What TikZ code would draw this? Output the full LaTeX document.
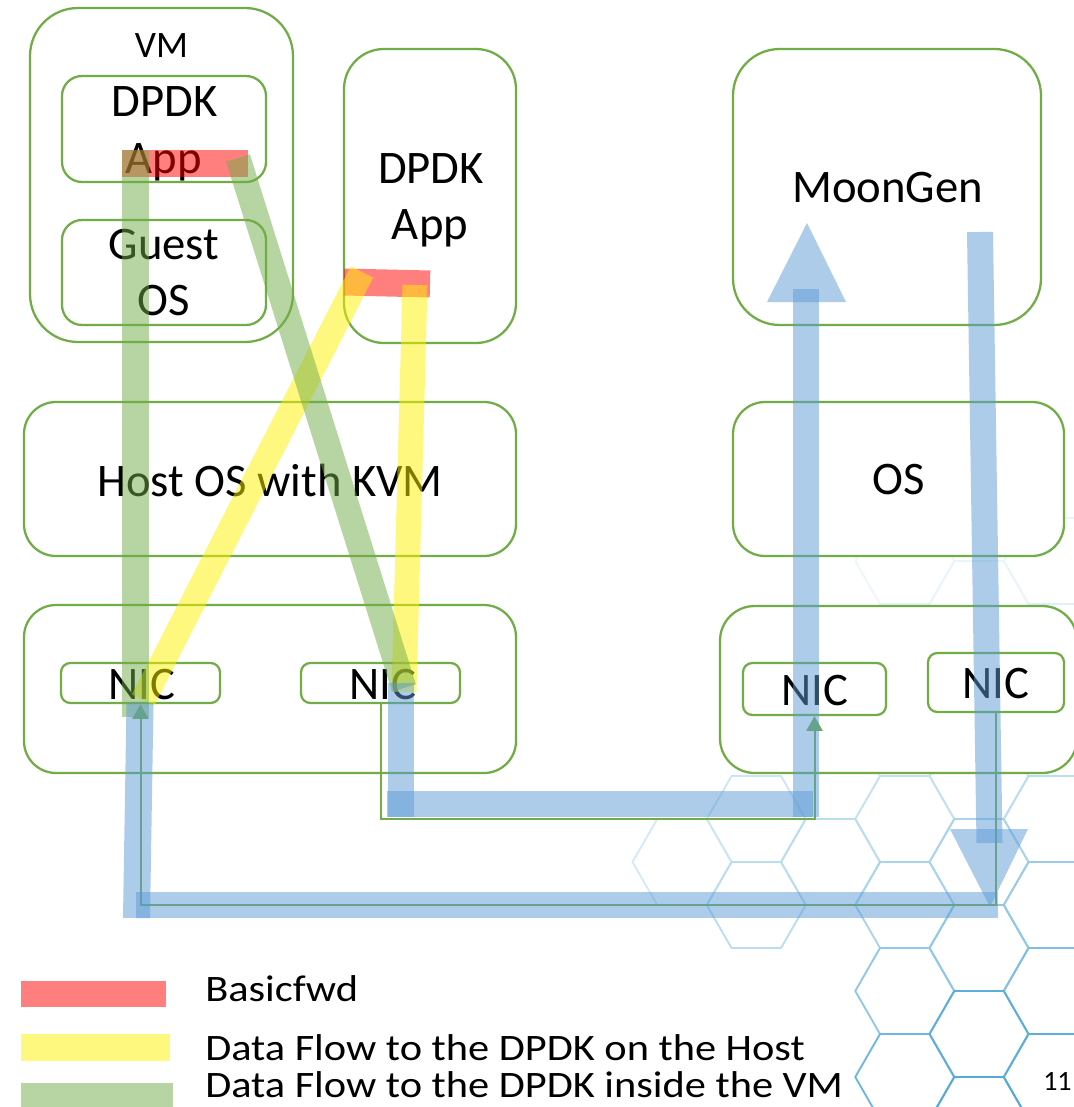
\documentclass[tikz,border=0pt]{standalone}
\usepackage{fontspec}
\setmainfont{Carlito}
\usetikzlibrary{fit,arrows.meta}
\definecolor{grn}{HTML}{70AD47}
\definecolor{fblue}{HTML}{5B9BD5}
\definecolor{hexc}{RGB}{84,170,218}
\newcommand\mainsz{\fontsize{35}{42}\selectfont}
\newcommand\vmsz{\fontsize{28}{34}\selectfont}
\newcommand\legsz{\fontsize{28}{34}\selectfont}
\newcommand\pgsz{\fontsize{21}{25}\selectfont}
\newcommand\hexcell[3]{\draw[hexline, draw=hexc!#3] (#1-49.5,#2) -- ++(24.75,-43) -- ++(49.5,0) -- ++(24.75,43) -- ++(-24.75,43) -- ++(-49.5,0) -- cycle;}
\newcommand\legtxt[1]{\scalebox{1.135}[1]{#1}}
\begin{document}
\begin{tikzpicture}[x=0.75pt, y=-0.75pt,
  box/.style={draw=grn, line width=1.7pt, fill=white, inner sep=0pt},
  lbl/.style={inner sep=0pt, font=\mainsz, anchor=base},
  legl/.style={inner sep=0pt, font=\legsz, anchor=base west},
  swatch/.style={draw=none, inner sep=0pt, fill opacity=0.5},
  hexline/.style={line width=1.4pt, line join=round},
  link/.style={draw=grn, line width=1.5pt, -{Triangle[length=11pt,width=12pt]}},
  flow/.style={line width=#1, opacity=0.5},
  tipfill/.style={fill=fblue, opacity=0.5}]
\useasboundingbox (0,0) rectangle (1074,1107);
\fill[white] (0,0) rectangle (1074,1107);
\clip (0,0) rectangle (1074,1107);

% background hexagons
\hexcell{904.75}{561}{10}
\hexcell{1053.25}{561}{12}
\hexcell{979}{604}{12}
\hexcell{904.75}{647}{15}
\hexcell{1053.25}{647}{18}
\hexcell{979}{690}{20}
\hexcell{904.75}{733}{25}
\hexcell{682}{862}{25}
\hexcell{1053.25}{733}{28}
\hexcell{979}{776}{30}
\hexcell{756.25}{819}{30}
\hexcell{904.75}{819}{35}
\hexcell{756.25}{905}{40}
\hexcell{830.5}{862}{40}
\hexcell{1053.25}{819}{40}
\hexcell{904.75}{905}{50}
\hexcell{979}{862}{50}
\hexcell{1053.25}{905}{60}
\hexcell{904.75}{991}{65}
\hexcell{979}{948}{65}
\hexcell{1053.25}{991}{75}
\hexcell{904.75}{1077}{85}
\hexcell{979}{1034}{95}
\hexcell{1053.25}{1077}{95}
\hexcell{979}{1120}{100}

% boxes
\node[box, rounded corners=36pt, fit={(30,8) (293,342)}] (vm) {};
\node[box, rounded corners=15pt, fit={(62,76) (266,182)}] (vmapp) {};
\node[box, rounded corners=15pt, fit={(62,220) (266,325)}] (guest) {};
\node[box, rounded corners=30pt, fit={(344,49) (516,343)}] (hostapp) {};
\node[box, rounded corners=24pt, fit={(24,402) (516,556)}] (hostos) {};
\node[box, rounded corners=24pt, fit={(24,605) (516,773)}] (hostnic) {};
\node[box, rounded corners=7pt, fit={(61,663) (220,703)}] (nic1) {};
\node[box, rounded corners=7pt, fit={(301,663) (460,703)}] (nic2) {};
\node[box, rounded corners=35pt, fit={(733,49) (1041,325)}] (moongen) {};
\node[box, rounded corners=24pt, fit={(733,402) (1064,556)}] (os) {};
\node[box, rounded corners=26pt, fit={(720,606) (1077,773)}] (rnic) {};
\node[box, rounded corners=7pt, fit={(743,663) (886,715)}] (nic3) {};
\node[box, rounded corners=7pt, fit={(928,653) (1064,712)}] (nic4) {};

% labels
\node[lbl, font=\vmsz] (tvm) at (161.5,57) {VM};
\node[lbl] (tvmdpdk) at (164.5,116) {DPDK};
\node[lbl] (tvmapp) at (163.5,173) {App};
\node[lbl] (tguest) at (164,259) {Guest};
\node[lbl] (tguestos) at (163.5,315) {OS};
\node[lbl] (thdpdk) at (431,183) {DPDK};
\node[lbl] (thapp) at (430,239) {App};
\node[lbl] (thostos) at (270,496) {Host OS with KVM};
\node[lbl] (tnic1) at (142,699) {NIC};
\node[lbl] (tnic2) at (382.5,699) {NIC};
\node[lbl] (tnic3) at (815,705) {NIC};
\node[lbl] (tnic4) at (996,698) {NIC};
\node[lbl] (tmoon) at (887.5,202) {MoonGen};
\node[lbl] (tos) at (898.5,494) {OS};

% thin connections
\coordinate (lk1) at (380.5,819);
\coordinate (lk2) at (996,905);
\draw[link] (nic2.south) -- (lk1) -| (nic3.south);
\draw[link] (nic4.south) -- (lk2) -| (nic1.south);

% flow end points
\coordinate (r1a) at (122,163.5); \coordinate (r1b) at (248,163.5);
\coordinate (r2a) at (344,282);   \coordinate (r2b) at (430,284);
\coordinate (y1a) at (362,272);   \coordinate (y1b) at (143,700);
\coordinate (y2a) at (415,285);   \coordinate (y2b) at (404,692);
\coordinate (g1a) at (135.5,150); \coordinate (g1b) at (135.5,717);
\coordinate (g2a) at (238,158);   \coordinate (g2b) at (404,688);
\coordinate (a1a) at (401,683);   \coordinate (a1b) at (401,817);
\coordinate (a2a) at (387,804);   \coordinate (a2b) at (813,804);
\coordinate (a3a) at (806,817);   \coordinate (a3b) at (806,289);
\coordinate (b1a) at (980,232);   \coordinate (b1b) at (989.5,843);
\coordinate (b3a) at (998,905);   \coordinate (b3b) at (136,905);
\coordinate (b4a) at (136.5,918); \coordinate (b4b) at (140,703);

% red: basicfwd
\draw[flow=20.25pt, red] (r1a) -- (r1b);
\draw[flow=20.25pt, red] (r2a) -- (r2b);
% yellow: to host DPDK
\draw[flow=18.75pt, yellow] (y1a) -- (y1b);
\draw[flow=18.75pt, yellow] (y2a) -- (y2b);
% green: to VM DPDK
\draw[flow=20.25pt, grn] (g1a) -- (g1b);
\draw[flow=18.75pt, grn] (g2a) -- (g2b);
% blue: wire paths
\draw[flow=19.5pt, fblue] (a1a) -- (a1b);
\draw[flow=19.5pt, fblue] (a2a) -- (a2b);
\draw[flow=19.5pt, fblue] (a3a) -- (a3b);
\fill[tipfill] (767,302) -- (846,302) -- (807,223) -- cycle;
\draw[flow=19.5pt, fblue] (b1a) -- (b1b);
\fill[tipfill] (950,829) -- (1028,829) -- (990,907) -- cycle;
\draw[flow=19.5pt, fblue] (b3a) -- (b3b);
\draw[flow=20.25pt, fblue] (b4a) -- (b4b);

% legend
\node[swatch, fill=red, fit={(21,981) (166,1007)}] (swr) {};
\node[swatch, fill=yellow, fit={(21,1034) (170,1061)}] (swy) {};
\node[swatch, fill=grn, fit={(21,1083) (173,1112)}] (swg) {};
\node[legl] (lr) at (205,1001) {\legtxt{Basicfwd}};
\node[legl] (ly) at (205,1060) {\legtxt{Data Flow to the DPDK on the Host}};
\node[legl] (lg) at (205,1097) {\legtxt{Data Flow to the DPDK inside the VM}};

% page number
\node[inner sep=0pt, anchor=base west, font=\pgsz] (pg) at (1043,1090) {11};
\end{tikzpicture}
\end{document}
